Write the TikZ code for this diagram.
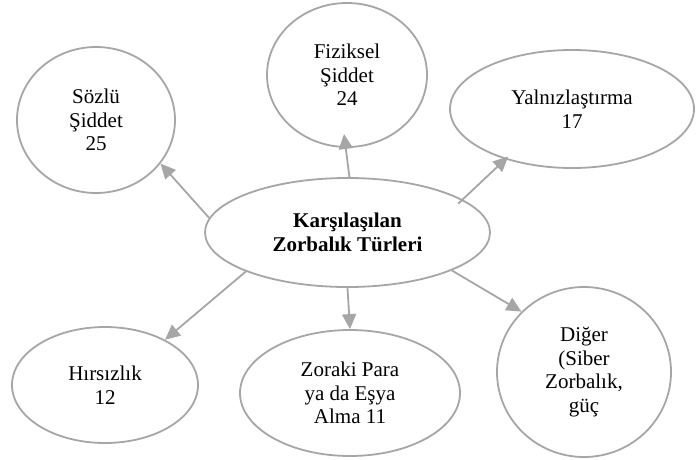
\documentclass[tikz,border=0pt]{standalone}
\usepackage{fontspec}
\setmainfont{Liberation Serif}
\usepackage{tikz}
\usetikzlibrary{shapes.geometric, arrows.meta}
\definecolor{linegray}{HTML}{A6A6A6}
\tikzset{
  font=\fontsize{21}{23.5}\selectfont,
  % Set arrowhead
  >={Triangle[length=15pt, width=14pt]},
  % Category bubble
  bubble/.style={draw=linegray, line width=1.8pt, fill=white, shape=ellipse,
    inner sep=0pt, align=center},
  % Central bubble
  hub/.style={bubble, font=\fontsize{21}{24.5}\selectfont\bfseries},
  % Arrows
  link/.style={->, draw=linegray, fill=linegray, line width=1.8pt},
}

\begin{document}
\begin{tikzpicture}[x=1pt, y=1pt]
      \useasboundingbox (0,0) rectangle (700,459);

      \node[hub, minimum width=285pt, minimum height=109pt] (center) at (347.5,226.5)
        {Karşılaşılan\\Zorbalık Türleri};

      \node[bubble, minimum width=158pt, minimum height=146pt] (sozlu) at (96,339)
        {Sözlü\\Şiddet\\25};
      \node[bubble, minimum width=160pt, minimum height=144pt] (fiziksel) at (347,384)
        {Fiziksel\\Şiddet\\24};
      \node[bubble, minimum width=244pt, minimum height=118pt] (yalniz) at (572,350)
        {Yalnızlaştırma\\17};
      \node[bubble, minimum width=186pt, minimum height=116pt] (hirsiz) at (105,74)
        {Hırsızlık\\12};
      \node[bubble, minimum width=220pt, minimum height=126pt] (zoraki) at (350,66)
        {Zoraki Para\\ya da Eşya\\Alma 11};
      \node[bubble, minimum width=174pt, minimum height=170pt] (diger) at (584,87)
        {Diğer\\(Siber\\Zorbalık,\\güç};

      \draw[link] (center.174) -- (sozlu.-34);
      \draw[link, shorten >=-14pt] (center.88) -- (fiziksel.-91);
      \draw[link, shorten <=-6pt, shorten >=-4pt] (center.16) -- (yalniz.217);
      \draw[link] (center.201) -- (hirsiz.37);
      \draw[link] (center.-90) -- (zoraki.90);
      \draw[link] (center.-20) -- (diger.136);
    \end{tikzpicture}
\end{document}
